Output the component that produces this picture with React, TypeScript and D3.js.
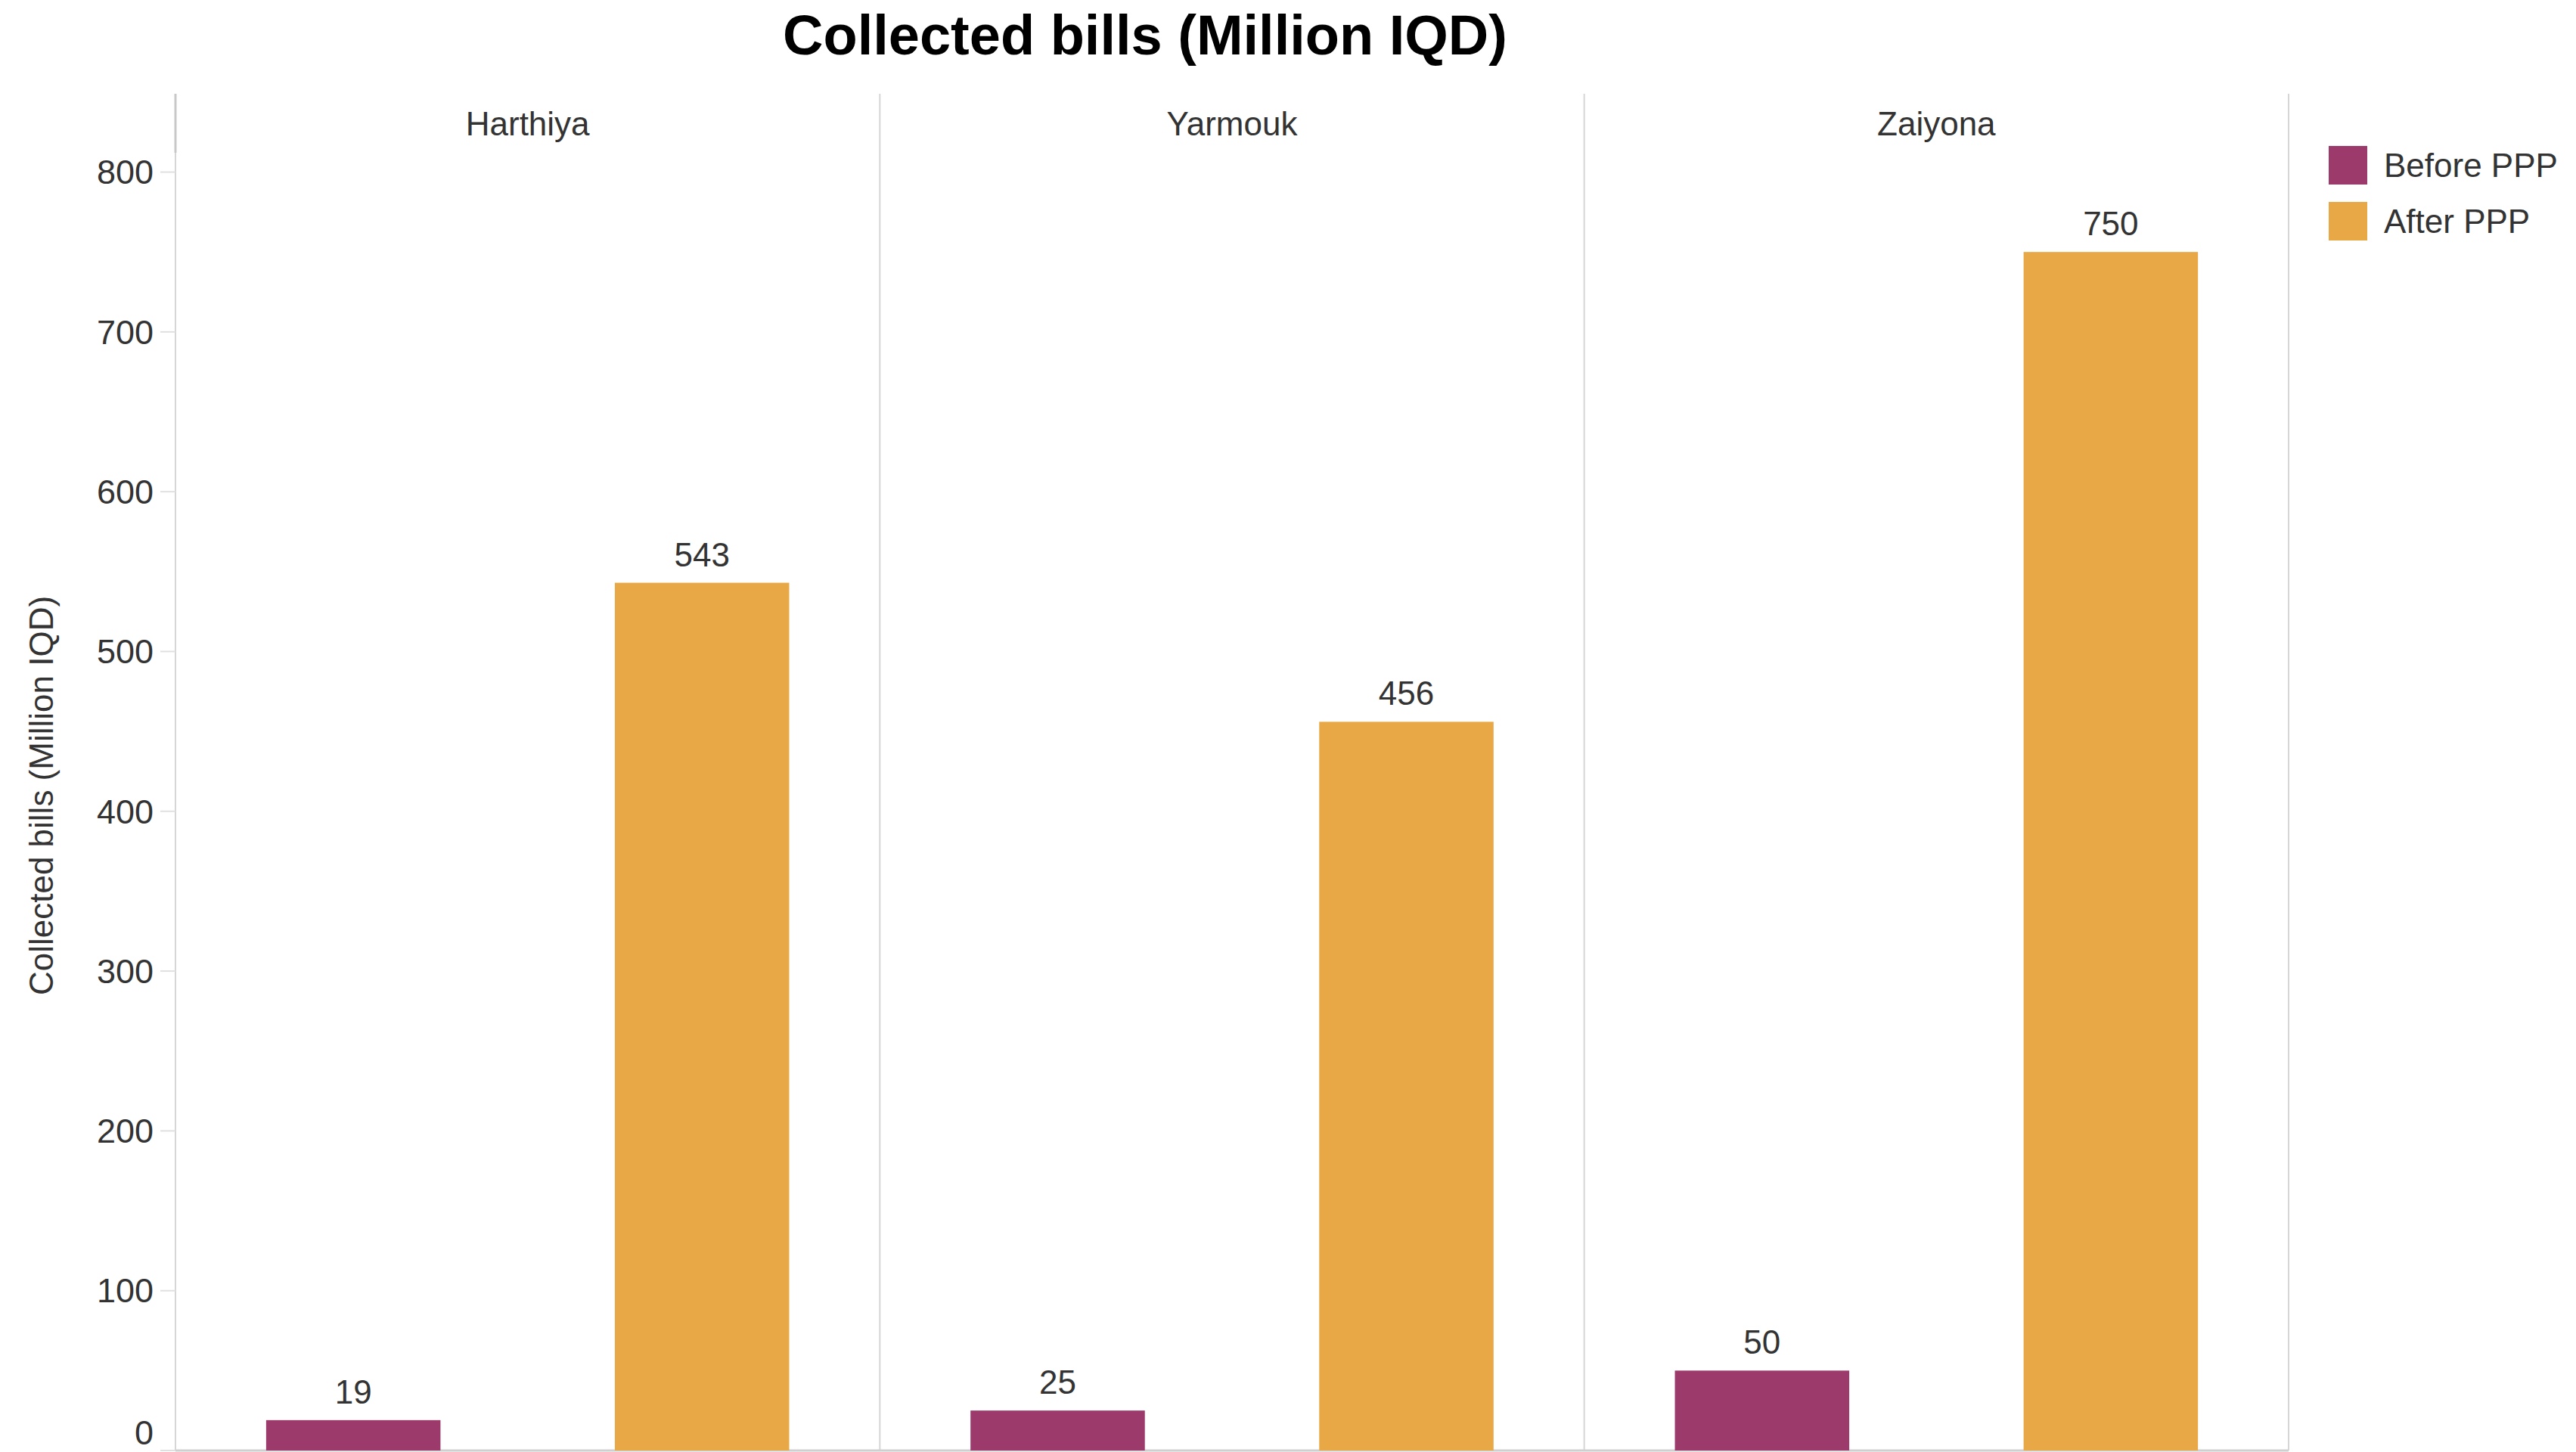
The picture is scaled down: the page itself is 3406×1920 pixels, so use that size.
import React from "react";
import * as d3 from "d3";

const regions = ["Harthiya", "Yarmouk", "Zaiyona"];
const series = ["Before PPP", "After PPP"];
const beforeValues = [19, 25, 50];
const afterValues = [543, 456, 750];
const yTicks = [0, 100, 200, 300, 400, 500, 600, 700, 800];
const colors = ["#9b3a6b", "#e8a845"];

const W = 3406;
const H = 1920;
const FONT = "'Liberation Sans', Arial, Helvetica, sans-serif";

export default function App() {
  const left = 232;
  const right = 3026;
  const top = 124;
  const headerBottom = 202;
  const base = 1918;

  const fx = d3.scaleBand<string>().domain(regions).range([left, right]).padding(0);
  const xi = d3
    .scaleBand<string>()
    .domain(series)
    .range([0, fx.bandwidth()])
    .paddingInner(0.5)
    .paddingOuter(0.26);
  const y = d3.scaleLinear().domain([0, 849]).range([base, top]);
  const color = d3.scaleOrdinal<string, string>().domain(series).range(colors);

  const data = regions.flatMap((r, i) => [
    { region: r, s: series[0], v: beforeValues[i] },
    { region: r, s: series[1], v: afterValues[i] },
  ]);

  const dividers = [left, ...regions.map((r) => (fx(r) as number) + fx.bandwidth())];

  return (
    <svg
      width={W}
      height={H}
      style={{ position: "absolute", left: 0, top: 0, background: "#fff" }}
      fontFamily={FONT}
    >
      <rect x={0} y={0} width={W} height={H} fill="#fff" />
      {/* title */}
      <text x={1514} y={72} textAnchor="middle" fontSize={74} fontWeight="bold" fill="#000">
        Collected bills (Million IQD)
      </text>

      {/* y axis title */}
      <text
        transform={`translate(54, 1052) rotate(-90)`}
        textAnchor="middle"
        dominantBaseline="central"
        fontSize={44}
        fill="#333"
      >
        Collected bills (Million IQD)
      </text>

      {/* panel dividers */}
      {dividers.map((x, i) => (
        <line key={"d" + i} x1={x} x2={x} y1={top} y2={base} stroke="#d6d6d6" strokeWidth={2} />
      ))}
      <line x1={left} x2={left} y1={top} y2={headerBottom} stroke="#c8c8c8" strokeWidth={3} />

      {/* bottom axis */}
      <line x1={left} x2={right} y1={base} y2={base} stroke="#d0d0d0" strokeWidth={3} />

      {/* y ticks */}
      {yTicks.map((t) => (
        <g key={"t" + t}>
          <line x1={212} x2={left} y1={y(t)} y2={y(t)} stroke="#e0e0e0" strokeWidth={2} />
          <text
            x={203}
            y={Math.min(y(t), 1894)}
            dy="0.35em"
            textAnchor="end"
            fontSize={45}
            fill="#333"
          >
            {t}
          </text>
        </g>
      ))}

      {/* headers */}
      {regions.map((r) => (
        <text
          key={"h" + r}
          x={(fx(r) as number) + fx.bandwidth() / 2}
          y={179}
          textAnchor="middle"
          fontSize={44}
          fill="#333"
        >
          {r}
        </text>
      ))}

      {/* bars */}
      {data.map((d, i) => {
        const x0 = (fx(d.region) as number) + (xi(d.s) as number);
        return (
          <g key={"b" + i}>
            <rect
              x={x0}
              y={y(d.v)}
              width={xi.bandwidth()}
              height={base - y(d.v)}
              fill={color(d.s)}
            />
            <text
              x={x0 + xi.bandwidth() / 2}
              y={y(d.v) - 22}
              textAnchor="middle"
              fontSize={44}
              fill="#333"
            >
              {d.v}
            </text>
          </g>
        );
      })}

      {/* legend */}
      {series.map((s, i) => (
        <g key={"l" + s} transform={`translate(3079, ${193 + i * 74})`}>
          <rect x={0} y={0} width={51} height={51} fill={color(s)} />
          <text x={73} y={25.5} dy="0.35em" fontSize={44} fill="#333">
            {s}
          </text>
        </g>
      ))}
    </svg>
  );
}
